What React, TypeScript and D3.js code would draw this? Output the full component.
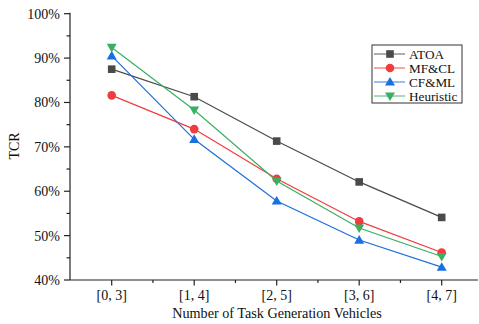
import React from "react";
import * as d3 from "d3";

const categories = ["[0, 3]", "[1, 4]", "[2, 5]", "[3, 6]", "[4, 7]"];
const seriesNames = ["ATOA", "MF&CL", "CF&ML", "Heuristic"];
const atoa = [87.5, 81.3, 71.3, 62.1, 54.1];
const mfcl = [81.6, 74.0, 62.8, 53.2, 46.2];
const cfml = [90.5, 71.7, 57.8, 49.0, 42.9];
const heuristic = [92.4, 78.3, 62.3, 51.7, 45.3];
const yTicks = [40, 50, 60, 70, 80, 90, 100];
const yMinor = [45, 55, 65, 75, 85, 95];

const colors = ["#4a4a4a", "#f03c3c", "#1b6fe0", "#3aae62"];
const shapes = ["square", "circle", "up", "down"];
const seriesData = [atoa, mfcl, cfml, heuristic];

const W = 479, H = 324;
const left = 70, right = 478, top = 13.7, bottom = 280;
const font = "'Liberation Serif', 'Times New Roman', serif";

function Marker({ shape, x, y, color }: { shape: string; x: number; y: number; color: string }) {
  if (shape === "square") return <rect x={x - 3.8} y={y - 3.8} width={7.6} height={7.6} fill={color} />;
  if (shape === "circle") return <circle cx={x} cy={y} r={4.3} fill={color} />;
  if (shape === "up") return <path d={`M${x},${y - 5}L${x + 5},${y + 3.6}L${x - 5},${y + 3.6}Z`} fill={color} />;
  return <path d={`M${x},${y + 5}L${x + 5},${y - 3.6}L${x - 5},${y - 3.6}Z`} fill={color} />;
}

export default function App() {
  const step = 82.5;
  const x = d3.scaleLinear().domain([0, 4]).range([111.7, 111.7 + 4 * step]);
  const y = d3.scaleLinear().domain([40, 100]).range([bottom, top]);
  const line = d3.line<number>().x((_, i) => x(i)).y((d) => y(d));
  const xMinor = [0.5, 1.5, 2.5, 3.5, 4.5];
  return (
    <svg width={W} height={H} style={{ position: "absolute", left: 0, top: 0 }} fontFamily={font}>
      <rect width={W} height={H} fill="#fff" />
      {/* y axis */}
      <line x1={left} x2={left} y1={top - 1} y2={bottom} stroke="#222" strokeWidth={1.2} />
      {yTicks.map((t) => (
        <g key={t}>
          <line x1={left - 6} x2={left} y1={y(t)} y2={y(t)} stroke="#222" strokeWidth={1.2} />
          <text x={60} y={y(t)} dy="0.35em" textAnchor="end" fontSize={14} fill="#111">{t}%</text>
        </g>
      ))}
      {yMinor.map((t) => (
        <line key={t} x1={left - 3.5} x2={left} y1={y(t)} y2={y(t)} stroke="#222" strokeWidth={1.2} />
      ))}
      {/* x axis */}
      <line x1={left} x2={right} y1={bottom} y2={bottom} stroke="#222" strokeWidth={1.2} />
      {categories.map((c, i) => (
        <g key={c}>
          <line x1={x(i)} x2={x(i)} y1={bottom} y2={bottom + 5.5} stroke="#222" strokeWidth={1.2} />
          <text x={x(i)} y={295} dy="0.35em" textAnchor="middle" fontSize={14} fill="#111">{c}</text>
        </g>
      ))}
      {xMinor.map((t) => (
        <line key={t} x1={x(t)} x2={x(t)} y1={bottom} y2={bottom + 3} stroke="#222" strokeWidth={1.2} />
      ))}
      <text x={277} y={313} dy="0.35em" textAnchor="middle" fontSize={14.2} fill="#111">Number of Task Generation Vehicles</text>
      <text transform={`translate(14,146) rotate(-90)`} textAnchor="middle" dy="0.35em" fontSize={14} fill="#111">TCR</text>
      {/* series */}
      {seriesData.map((s, k) => (
        <g key={seriesNames[k]}>
          <path d={line(s) || ""} fill="none" stroke={colors[k]} strokeWidth={1.2} />
          {s.map((v, i) => (
            <Marker key={i} shape={shapes[k]} x={x(i)} y={y(v)} color={colors[k]} />
          ))}
        </g>
      ))}
      {/* legend */}
      <rect x={372} y={45} width={90} height={58} fill="#fff" stroke="#333" strokeWidth={1} />
      {seriesNames.map((n, k) => {
        const ly = 54 + k * 14;
        return (
          <g key={n}>
            <line x1={374} x2={405} y1={ly} y2={ly} stroke={colors[k]} strokeWidth={1.2} opacity={0.75} />
            <Marker shape={shapes[k]} x={390} y={ly} color={colors[k]} />
            <text x={409} y={ly} dy="0.35em" fontSize={13.2} fill="#111">{n}</text>
          </g>
        );
      })}
    </svg>
  );
}
